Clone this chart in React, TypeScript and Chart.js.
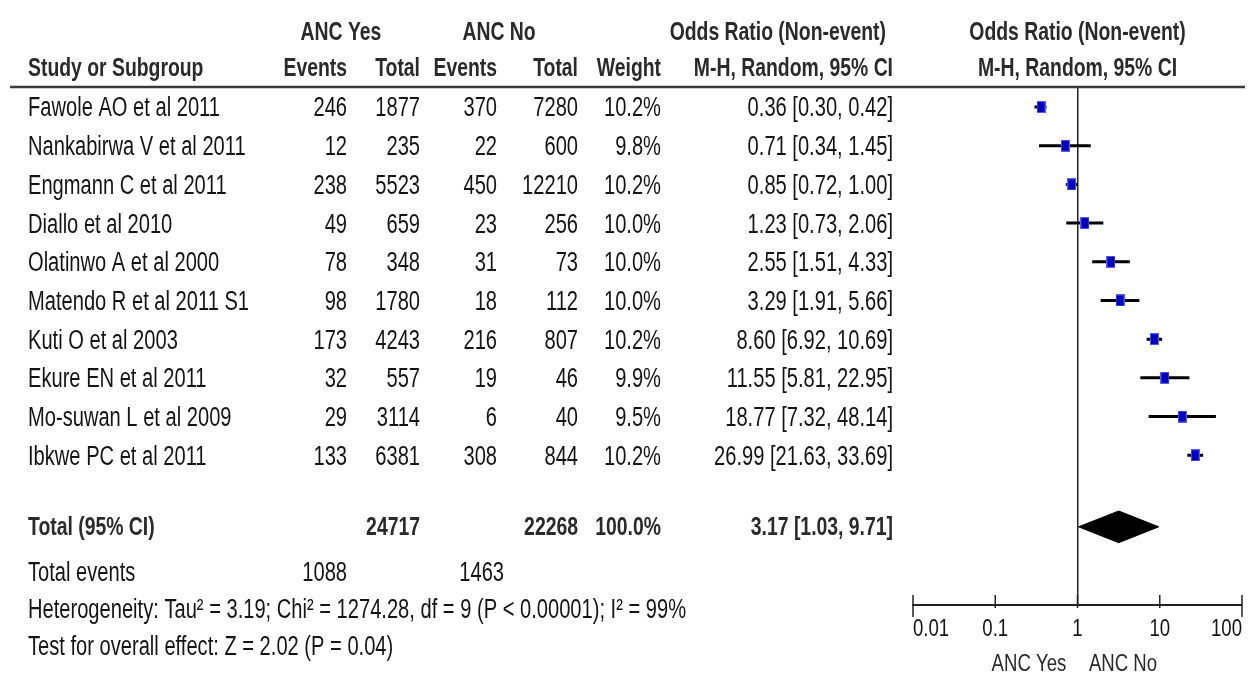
import React, { useEffect, useRef } from 'react';
import { Chart, registerables } from 'chart.js';

Chart.register(...registerables);

const studies = [
  'Fawole AO et al 2011',
  'Nankabirwa V et al 2011',
  'Engmann C et al 2011',
  'Diallo et al 2010',
  'Olatinwo A et al 2000',
  'Matendo R et al 2011 S1',
  'Kuti O et al 2003',
  'Ekure EN et al 2011',
  'Mo-suwan L et al 2009',
  'Ibkwe PC et al 2011',
];
const eventsYes = [246, 12, 238, 49, 78, 98, 173, 32, 29, 133];
const totalYes = [1877, 235, 5523, 659, 348, 1780, 4243, 557, 3114, 6381];
const eventsNo = [370, 22, 450, 23, 31, 18, 216, 19, 6, 308];
const totalNo = [7280, 600, 12210, 256, 73, 112, 807, 46, 40, 844];
const weights = [10.2, 9.8, 10.2, 10.0, 10.0, 10.0, 10.2, 9.9, 9.5, 10.2];
const oddsRatio = [0.36, 0.71, 0.85, 1.23, 2.55, 3.29, 8.6, 11.55, 18.77, 26.99];
const ciLow = [0.3, 0.34, 0.72, 0.73, 1.51, 1.91, 6.92, 5.81, 7.32, 21.63];
const ciHigh = [0.42, 1.45, 1.0, 2.06, 4.33, 5.66, 10.69, 22.95, 48.14, 33.69];
const pooled = [3.17, 1.03, 9.71]; // estimate, low, high
const totalWeight = '100.0%';
const heterogeneityText = 'Heterogeneity: Tau\u00b2 = 3.19; Chi\u00b2 = 1274.28, df = 9 (P < 0.00001); I\u00b2 = 99%';
const overallText = 'Test for overall effect: Z = 2.02 (P = 0.04)';
const tickValues = [0.01, 0.1, 1, 10, 100];
const tickLabels = ['0.01', '0.1', '1', '10', '100'];
const favoursLeft = 'ANC Yes';
const favoursRight = 'ANC No';

const W = 1249;
const H = 673;
const FAMILY = "'Liberation Sans', Arial, sans-serif";

export default function App() {
  const ref = useRef<HTMLCanvasElement>(null);

  useEffect(() => {
    const TOTAL_ROW = 10.85;
    const ciData: any[] = [];
    studies.forEach((_, i) => {
      ciData.push({ x: ciLow[i], y: i }, { x: ciHigh[i], y: i }, { x: null, y: null });
    });
    const diamond = [
      { x: pooled[1], y: TOTAL_ROW },
      { x: pooled[0], y: TOTAL_ROW - 0.41 },
      { x: pooled[2], y: TOTAL_ROW },
      { x: pooled[0], y: TOTAL_ROW + 0.41 },
      { x: pooled[1], y: TOTAL_ROW },
    ];

    // marker glyph: small blue box, slightly taller than wide
    const box = document.createElement('canvas');
    box.width = 9;
    box.height = 12;
    const bctx = box.getContext('2d') as CanvasRenderingContext2D;
    bctx.fillStyle = '#5a5aff';
    bctx.fillRect(0, 0, 9, 12);
    bctx.fillStyle = '#0000c8';
    bctx.fillRect(1, 1, 7, 10);

    const sum = (a: number[]) => a.reduce((s, v) => s + v, 0);

    const tablePlugin = {
      id: 'forestTable',
      afterDraw(chart: any) {
        const ctx = chart.ctx as CanvasRenderingContext2D;
        const ys = chart.scales.y;
        const xs = chart.scales.x;
        const area = chart.chartArea;
        // kind: 'b' body, 'h' bold header, 's' small axis text
        const t = (s: string, x: number, y: number, align: CanvasTextAlign, kind = 'b', color = '#141414') => {
          const size = kind === 'b' ? 27 : kind === 'h' ? 25 : 24;
          const sx = kind === 'b' ? 0.745 : kind === 'h' ? 0.775 : 0.775;
          ctx.save();
          ctx.font = `${kind === 'h' ? 'bold ' : ''}${size}px ${FAMILY}`;
          ctx.fillStyle = color;
          ctx.textAlign = align;
          ctx.textBaseline = 'middle';
          ctx.translate(x, y);
          ctx.scale(sx, 1);
          ctx.fillText(s, 0, 0);
          ctx.restore();
        };
        const HC = '#2a2a2a';
        const cx = xs.getPixelForValue(1);
        // headers
        t('ANC Yes', 341, 33, 'center', 'h', HC);
        t('ANC No', 499, 33, 'center', 'h', HC);
        t('Odds Ratio (Non-event)', 886, 33, 'right', 'h', HC);
        t('Odds Ratio (Non-event)', cx, 33, 'center', 'h', HC);
        t('Study or Subgroup', 28, 69, 'left', 'h', HC);
        t('Events', 347, 69, 'right', 'h', HC);
        t('Total', 420, 69, 'right', 'h', HC);
        t('Events', 497, 69, 'right', 'h', HC);
        t('Total', 578, 69, 'right', 'h', HC);
        t('Weight', 661, 69, 'right', 'h', HC);
        t('M-H, Random, 95% CI', 893, 69, 'right', 'h', HC);
        t('M-H, Random, 95% CI', cx, 69, 'center', 'h', HC);
        // header rule
        ctx.save();
        ctx.strokeStyle = '#3a3a3a';
        ctx.lineWidth = 2.5;
        ctx.beginPath();
        ctx.moveTo(10, area.top);
        ctx.lineTo(1245, area.top);
        ctx.stroke();
        ctx.restore();
        // rows
        const dy = 2;
        studies.forEach((s, i) => {
          const y = ys.getPixelForValue(i) + dy;
          t(s, 28, y, 'left');
          t(String(eventsYes[i]), 347, y, 'right');
          t(String(totalYes[i]), 420, y, 'right');
          t(String(eventsNo[i]), 497, y, 'right');
          t(String(totalNo[i]), 578, y, 'right');
          t(weights[i].toFixed(1) + '%', 661, y, 'right');
          t(`${oddsRatio[i].toFixed(2)} [${ciLow[i].toFixed(2)}, ${ciHigh[i].toFixed(2)}]`, 893, y, 'right');
        });
        const yt = ys.getPixelForValue(TOTAL_ROW) + 1;
        t('Total (95% CI)', 28, yt, 'left', 'h', HC);
        t(String(sum(totalYes)), 420, yt, 'right', 'h', HC);
        t(String(sum(totalNo)), 578, yt, 'right', 'h', HC);
        t(totalWeight, 661, yt, 'right', 'h', HC);
        t(`${pooled[0].toFixed(2)} [${pooled[1].toFixed(2)}, ${pooled[2].toFixed(2)}]`, 893, yt, 'right', 'h', HC);
        const ye = ys.getPixelForValue(12.016) + dy;
        t('Total events', 28, ye, 'left');
        t(String(sum(eventsYes)), 347, ye, 'right');
        t(String(sum(eventsNo)), 504, ye, 'right');
        t(heterogeneityText, 28, ys.getPixelForValue(12.97) + dy, 'left');
        t(overallText, 28, ys.getPixelForValue(13.93) + dy, 'left');
        // axis tick marks and labels
        ctx.save();
        ctx.strokeStyle = '#222';
        ctx.lineWidth = 1.5;
        tickValues.forEach((v, i) => {
          const x = xs.getPixelForValue(v);
          const end = i === 0 || i === tickValues.length - 1;
          ctx.beginPath();
          ctx.moveTo(x, area.bottom - 10);
          ctx.lineTo(x, area.bottom + (end ? 12 : 3));
          ctx.stroke();
        });
        ctx.restore();
        tickValues.forEach((v, i) => {
          const x = xs.getPixelForValue(v);
          const align: CanvasTextAlign = i === 0 ? 'left' : i === tickValues.length - 1 ? 'right' : 'center';
          t(tickLabels[i], x, 629, align, 's');
        });
        t(favoursLeft, 1029, 664, 'center', 's', HC);
        t(favoursRight, 1123, 664, 'center', 's', HC);
      },
    };

    const chart = new Chart(ref.current as HTMLCanvasElement, {
      type: 'scatter',
      data: {
        datasets: [
          {
            label: 'CI',
            data: ciData,
            showLine: true,
            spanGaps: false,
            borderColor: '#000',
            borderWidth: 3,
            pointRadius: 0,
            order: 2,
          } as any,
          {
            label: 'Odds ratio',
            data: oddsRatio.map((v, i) => ({ x: v, y: i })),
            pointStyle: box,
            pointRadius: 6,
            order: 1,
          } as any,
          {
            label: 'Total',
            data: diamond,
            showLine: true,
            fill: 'shape',
            backgroundColor: '#000',
            borderColor: '#000',
            borderWidth: 1,
            pointRadius: 0,
            order: 0,
          } as any,
        ],
      },
      options: {
        animation: false,
        responsive: false,
        devicePixelRatio: 1,
        layout: { padding: { left: 913, right: 5, top: 87, bottom: 0 } },
        plugins: { legend: { display: false }, tooltip: { enabled: false } },
        scales: {
          x: {
            type: 'logarithmic',
            min: 0.01,
            max: 100,
            afterBuildTicks: (s: any) => {
              s.ticks = tickValues.map((v) => ({ value: v }));
            },
            afterFit: (s: any) => {
              s.height = 68;
              s.paddingLeft = 0;
              s.paddingRight = 0;
            },
            grid: {
              drawTicks: false,
              color: (c: any) => (c.tick && c.tick.value === 1 ? '#222' : 'rgba(0,0,0,0)'),
              lineWidth: 1.5,
            },
            border: { display: true, color: '#222', width: 2 },
            ticks: {
              display: false,
              autoSkip: false,
            },
          } as any,
          y: {
            type: 'linear',
            reverse: true,
            min: -0.517,
            max: 12.87,
            display: false,
          },
        },
      },
      plugins: [tablePlugin],
    });
    return () => chart.destroy();
  }, []);

  return (
    <div style={{ position: 'fixed', left: 0, top: 0, width: W, height: H, background: '#fff' }}>
      <canvas ref={ref} width={W} height={H} style={{ width: W, height: H, display: 'block' }} />
    </div>
  );
}
